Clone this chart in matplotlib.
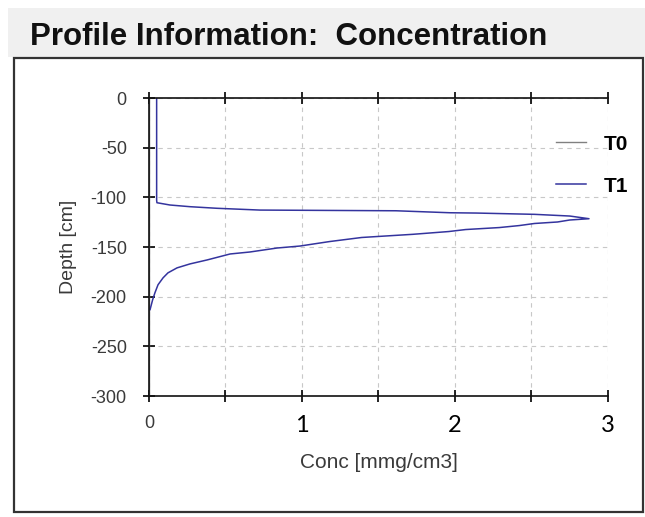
import matplotlib.pyplot as plt
from matplotlib.patches import Rectangle

plt.rcParams['axes.unicode_minus'] = False
plt.rcParams['font.family'] = ['Liberation Sans', 'DejaVu Sans']

# T0: initial profile (zero concentration)
t0_depth = [0, -300]
t0_conc = [0.0, 0.0]

# T1: concentration profile
t1_depth = [0, -103, -105.4, -107.7, -109.4, -111.0, -112.8, -113.5, -115.5, -115.8,
            -117.1, -118.8, -121.5, -122.8, -124.8, -126.3, -128.4, -130.4, -132.4,
            -134.4, -137.2, -140.4, -144.5, -149, -151, -155, -157, -163, -167, -171,
            -176, -181, -188, -196, -203, -213]
t1_conc = [0.05, 0.05, 0.052, 0.137, 0.268, 0.444, 0.725, 1.614, 1.967, 2.14,
           2.52, 2.75, 2.876, 2.75, 2.67, 2.52, 2.42, 2.29, 2.07,
           1.96, 1.725, 1.39, 1.18, 0.987, 0.837, 0.66, 0.53, 0.38, 0.268, 0.183,
           0.124, 0.092, 0.059, 0.039, 0.024, 0.007]

x_ticks = [0, 0.5, 1, 1.5, 2, 2.5, 3]
x_labels = ['0', '', '1', '', '2', '', '3']
y_ticks = [0, -50, -100, -150, -200, -250, -300]

fig = plt.figure(figsize=(6.45, 5.17), dpi=100)

# title band and panel frame
fig.patches.append(Rectangle((0.012, 0.89), 0.988, 0.095, transform=fig.transFigure,
                             facecolor='#f0f0f0', edgecolor='none', zorder=-3))
fig.patches.append(Rectangle((0.022, 0.01), 0.975, 0.878, transform=fig.transFigure,
                             facecolor='white', edgecolor='#333333', lw=1.6, zorder=-2))
fig.text(0.046, 0.928, 'Profile Information:  Concentration', fontsize=22.5,
         fontweight='bold', color='#111111', va='center', ha='left')

ax = fig.add_axes([0.231, 0.234, 0.7116, 0.5764])
ax.set_facecolor('none')
ax.plot(t0_conc, t0_depth, color='#808080', lw=1.0, label='T0')
ax.plot(t1_conc, t1_depth, color='#34349e', lw=1.1, label='T1')

ax.set_xlim(0, 3)
ax.set_ylim(-300, 0)
ax.set_xticks(x_ticks)
ax.set_xticklabels(x_labels)
ax.set_yticks(y_ticks)
ax.set_yticklabels([str(v) for v in y_ticks], fontsize=13, color='#3a3a3a')

for lab in ax.get_xticklabels():
    if lab.get_text() == '0':
        lab.set_fontsize(13)
        lab.set_color('#3a3a3a')
    else:
        lab.set_fontsize(17)
        lab.set_color('black')
        lab.set_family(['Lato', 'DejaVu Sans'])

ax.spines['right'].set_visible(False)
for s in ['left', 'top', 'bottom']:
    ax.spines[s].set_color('#111111')
    ax.spines[s].set_linewidth(1.2)
ax.tick_params(axis='x', which='both', direction='inout', length=8, width=1.2,
               top=True, bottom=True, pad=10)
ax.tick_params(axis='y', direction='inout', length=8, width=1.2, pad=12)

ax.grid(True, color='#c8c8c8', linestyle=(0, (4, 4)), lw=0.8)
ax.set_axisbelow(True)

ax.set_xlabel('Conc [mmg/cm3]', fontsize=15, color='#3a3a3a', labelpad=12)
ax.set_ylabel('Depth [cm]', fontsize=14, color='#3a3a3a', labelpad=10)

leg = ax.legend(loc='upper right', bbox_to_anchor=(1.085, 0.94), frameon=False,
                handlelength=1.45, handletextpad=0.85, labelspacing=1.1, fontsize=15)
for t in leg.get_texts():
    t.set_fontweight('bold')

fig.savefig('out.png', dpi=100)
